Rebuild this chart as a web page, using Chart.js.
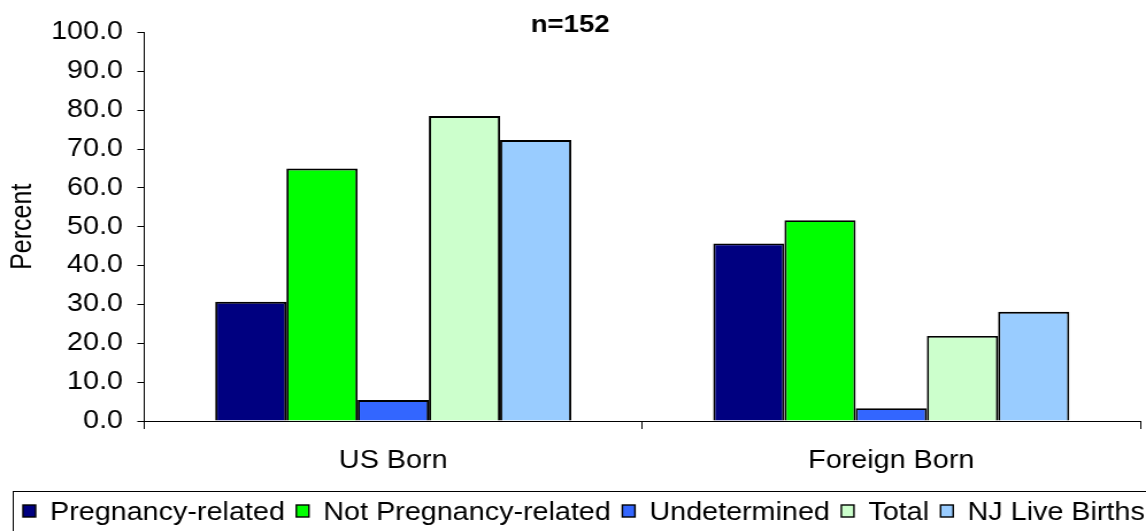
<!DOCTYPE html>
<html>
<head>
<meta charset="utf-8">
<script src="https://cdn.jsdelivr.net/npm/chart.js@4/dist/chart.umd.min.js"></script>
<style>
  html, body { margin: 0; padding: 0; background: #fff; overflow: hidden; }
  #c { display: block; width: 1146px; height: 531px; }
</style>
</head>
<body>
<canvas id="c" width="997" height="531" style="width:1146px;height:531px;"></canvas>
<script>
// ---- data ----
const categories = ['US Born', 'Foreign Born'];
const seriesNames = ['Pregnancy-related', 'Not Pregnancy-related', 'Undetermined', 'Total', 'NJ Live Births'];
const pregnancyRelated = [30.7, 45.7];
const notPregnancyRelated = [65.0, 51.7];
const undetermined = [5.4, 3.3];
const total = [78.5, 21.9];
const njLiveBirths = [72.3, 28.1];
const titleText = 'n=152';
const yAxisTitle = 'Percent';

// ---- styles ----
const seriesValues = [pregnancyRelated, notPregnancyRelated, undetermined, total, njLiveBirths];
const seriesColors = ['#000080', '#00FF00', '#3366FF', '#CCFFCC', '#99CCFF'];
const FONT = "'Liberation Sans', Arial, sans-serif";

const datasets = seriesNames.map((name, i) => ({
  label: name,
  data: seriesValues[i],
  backgroundColor: seriesColors[i],
  borderColor: '#000000',
  borderWidth: 1.9,
  barPercentage: 1.0,
  categoryPercentage: 0.715
}));

const boxedLegend = {
  id: 'boxedLegend',
  afterDraw(chart) {
    const ctx = chart.ctx;
    ctx.save();
    ctx.strokeStyle = '#000';
    ctx.lineWidth = 1;
    ctx.strokeRect(11.5, 491.5, chart.width + 20, 80);
    ctx.font = '25px ' + FONT;
    ctx.textBaseline = 'middle';
    ctx.textAlign = 'left';
    let x = 20;
    const cy = 512;
    chart.data.datasets.forEach((ds) => {
      ctx.fillStyle = ds.backgroundColor;
      ctx.fillRect(x, cy - 7, 11, 12);
      ctx.strokeStyle = '#000';
      ctx.lineWidth = 1.4;
      ctx.strokeRect(x, cy - 7, 11, 12);
      x += 11 + 12.5;
      ctx.fillStyle = '#000';
      ctx.fillText(ds.label, x, cy + 1);
      x += ctx.measureText(ds.label).width + 10;
    });
    ctx.restore();
  }
};

new Chart(document.getElementById('c'), {
  type: 'bar',
  data: { labels: categories, datasets },
  options: {
    responsive: false,
    devicePixelRatio: 1,
    animation: false,
    layout: { padding: { left: 0, right: 5, top: 0, bottom: 38 } },
    plugins: {
      legend: { display: false },
      tooltip: { enabled: false },
      title: {
        display: true,
        text: titleText,
        color: '#000',
        font: { family: FONT, size: 24, weight: 'bold', lineHeight: 1.2 },
        padding: { top: 10.6, bottom: -6.9 }
      }
    },
    scales: {
      x: {
        grid: { display: true, drawOnChartArea: false, drawTicks: true, tickLength: 8, color: '#000', offset: true },
        border: { display: true, color: '#000', width: 1 },
        ticks: { color: '#000', font: { family: FONT, size: 25 }, padding: 17, maxRotation: 0 }
      },
      y: {
        min: 0,
        max: 100,
        grid: { display: true, drawOnChartArea: false, drawTicks: true, tickLength: 6, color: '#000' },
        border: { display: true, color: '#000', width: 1 },
        ticks: {
          stepSize: 10,
          color: '#000',
          font: { family: FONT, size: 25 },
          padding: 12.45,
          callback: (v) => Number(v).toFixed(1)
        },
        title: {
          display: true,
          text: yAxisTitle,
          color: '#000',
          font: { family: FONT, size: 25, lineHeight: 1.2 },
          padding: { top: 5, bottom: -3 }
        }
      }
    }
  },
  plugins: [boxedLegend]
});
</script>
</body>
</html>
